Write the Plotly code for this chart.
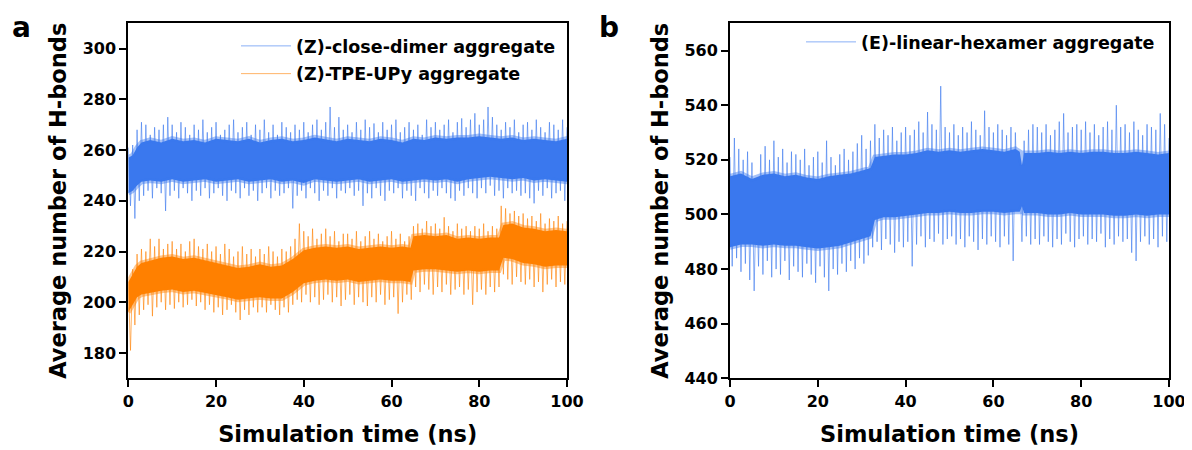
import plotly.graph_objects as go

# ---------------- data ----------------
t_peak = list(range(0, 101))                      # ns, spike tops
t_trough = [i + 0.5 for i in range(0, 100)]       # ns, spike bottoms

# panel a, (Z)-close-dimer aggregate
a_blue_hi = [261, 262, 268, 271, 270, 266, 269, 268, 270, 273,
             270, 267, 271, 269, 266, 270, 268, 272, 267, 269,
             271, 266, 268, 270, 272, 267, 269, 271, 266, 270,
             268, 272, 267, 270, 266, 271, 269, 267, 270, 268,
             271, 267, 270, 272, 268, 271, 277, 269, 273, 268,
             270, 267, 271, 268, 272, 269, 270.5, 267, 271, 268,
             270, 272, 267, 269, 271, 268, 270, 266, 272, 269,
             271, 268, 270, 272, 267, 271, 272.5, 269, 272, 274.5,
             270, 272, 277, 273, 270, 268, 271, 269, 272, 267,
             270, 271, 268, 272, 269, 267, 271, 270, 268, 272,
             269]
a_blue_lo = [238, 233, 240, 242, 244, 241, 245, 243, 236, 242,
             244, 241, 245, 243, 240, 244, 242, 245, 241, 243,
             245, 242, 240, 244, 243, 241, 245, 242, 244, 240,
             243, 245, 241, 244, 242, 243, 245, 237, 242, 244,
             241, 245, 243, 240, 244, 242, 245, 241, 244, 243,
             245, 242, 244, 238, 243, 241, 245, 242, 240, 244,
             243, 245, 241, 244, 242, 240, 245, 243, 241, 244,
             242, 245, 243, 241, 240, 244, 242, 245, 243, 241,
             245, 243, 246, 242, 244, 241, 245, 243, 244, 242,
             243, 241, 239, 244, 242, 245, 241, 243, 244, 240]
t_core_a_blue = [0, 1, 2, 3, 5, 7.5, 10, 12.5, 15, 17.5, 20, 22.5, 25, 27.5, 30, 32.5, 35,
                 37.5, 40, 42.5, 45, 47.5, 50, 52.5, 55, 57.5, 60, 62.5, 65, 67.5, 70, 72.5,
                 75, 77.5, 80, 82.5, 85, 87.5, 90, 92.5, 95, 97.5, 100]
a_blue_core_hi = [257, 258, 261, 263, 264, 263, 264.5, 263.5, 264, 263, 264.5, 264, 263.5,
                  264.5, 263, 264, 264.5, 263.5, 264, 265, 264, 263.5, 264.5, 264, 263.5,
                  264.5, 264, 263, 264.5, 264, 265, 264.5, 265, 265, 265.5, 265, 264.5, 265,
                  264, 264.5, 264, 263.5, 264.5]
a_blue_core_lo = [243, 244, 246, 247.5, 248, 247.5, 248.5, 247.5, 248, 248.5, 247.5, 248,
                  248.5, 247.5, 248, 248.5, 247.5, 248, 247, 248.5, 248, 247.5, 248, 248.5,
                  247.5, 248, 248.5, 247.5, 248, 248.5, 248, 248.5, 247.5, 248.5, 249, 249.5,
                  249, 248.5, 249, 248, 248.5, 248, 247.5]

# panel a, (Z)-TPE-UPy aggregate
a_orange_hi = [208, 213, 219, 221, 220, 225, 222, 225, 221, 223,
               224, 221, 223, 220, 224, 225, 222, 221, 223, 220,
               222, 219, 223, 221, 218, 220, 222, 219, 221, 218,
               221, 219, 222, 220, 218, 221, 220, 222, 225, 231,
               228, 226, 229, 225, 227, 229, 226, 228, 224, 227,
               227, 225, 228, 224, 226, 228, 225, 227, 224, 226,
               228, 225, 227, 224, 226, 230, 231, 229, 232, 230,
               231, 229, 233.5, 230, 228, 231, 229, 230, 228, 230,
               229, 231, 228, 230, 229, 238, 237, 235, 236, 234,
               235, 233, 234, 232, 235, 231, 233, 232, 234, 231,
               232]
a_orange_lo = [181, 191, 195, 197, 199, 194.5, 198, 200, 197, 199,
               197.5, 200, 198, 199, 201, 198.5, 200, 197, 199, 196,
               198, 195, 197, 199, 196, 193, 197, 195, 198, 196,
               198, 196, 199, 197, 195, 198, 196, 199, 201, 200,
               203, 200, 202, 199, 201, 203, 200, 202, 198.5, 201,
               203, 199, 202, 200, 198.5, 202, 200, 203, 199, 201,
               202, 195.5, 200, 203, 201, 206, 204, 207, 205, 203,
               206, 204, 207, 203, 205, 206, 203, 205, 199, 204,
               205, 203, 206, 204, 206, 211, 209, 207, 210, 208,
               207, 209, 206, 208, 204, 207, 209, 206, 208, 207]
t_core_a_orange = [0, 1, 2, 3, 5, 7.5, 10, 12.5, 15, 17.5, 20, 22.5, 25, 27.5, 30, 32.5, 35,
                   37.5, 40, 42.5, 45, 47.5, 50, 52.5, 55, 57.5, 60, 62.5, 64.3, 65, 67.5, 70,
                   72.5, 75, 77.5, 80, 82.5, 84.5, 85.5, 87.5, 90, 92.5, 95, 97.5, 100]
a_orange_core_hi = [208, 211, 214, 215.5, 216.5, 217.5, 218, 217, 217.5, 216.5, 215.5, 214.5,
                    213.5, 214, 215, 214, 214.5, 217, 220.5, 221.5, 222, 221.5, 222, 221,
                    221.5, 222, 221.5, 222, 221.5, 226, 226.5, 226, 226.5, 225, 225.5, 225,
                    225.5, 225.5, 230.5, 231, 229.5, 229, 228, 228.5, 228]
a_orange_core_lo = [196, 199, 202, 203, 203.5, 204.5, 205, 204, 204.5, 203.5, 203, 202, 201,
                    201.5, 202, 201.5, 201.5, 204, 207.5, 208.5, 209, 208.5, 209, 208, 208.5,
                    209, 208.5, 208.5, 208, 212.5, 213, 213, 212.5, 212, 212.5, 212, 212.5,
                    212.5, 217.5, 217, 215.5, 215, 214, 214.5, 214.5]

# panel b, (E)-linear-hexamer aggregate
b_blue_hi = [521, 528, 524, 520, 523, 519, 510, 522, 525, 520,
             527, 521, 524, 519, 523, 522, 520, 524, 518, 521,
             523, 519, 527, 521, 518, 522, 524, 520, 523, 526,
             529, 524, 527, 533, 528, 531, 529, 532, 527, 530,
             532, 529, 531, 534, 530, 537.5, 533, 531, 547, 532,
             530, 533, 529, 532, 530, 534, 531, 529, 538, 532,
             530, 533, 531, 529, 532, 530, 518, 527, 531, 533,
             532, 530, 533, 529, 531, 534, 537, 530, 532, 533,
             531, 534, 530, 533, 529, 532, 534, 531, 540, 532,
             533, 530, 534, 531, 529, 533, 532, 531, 537, 533,
             528]
b_blue_lo = [481, 484, 479, 482, 476, 472, 481, 478, 483, 477,
             480, 478, 483, 476, 481, 479, 477, 482, 478, 475,
             481, 477, 472, 480, 478, 482, 479, 483, 480, 484,
             482, 485, 488, 490, 487, 491, 489, 486, 490, 488,
             490, 481, 489, 492, 488, 491, 490, 493, 489, 491,
             492, 489, 491, 488, 492, 490, 487, 491, 489, 492,
             490, 488, 492, 489, 483, 503, 490, 492, 489, 491,
             489, 492, 490, 488, 491, 489, 493, 490, 488, 491,
             492, 489, 491, 490, 493, 488, 491, 489, 492, 490,
             491, 486, 483, 490, 492, 489, 491, 488, 492, 490]
t_core_b = [0, 2.5, 5, 7.5, 10, 12.5, 15, 17.5, 20, 22.5, 25, 27.5, 30, 32, 33, 35, 37.5, 40,
            42.5, 45, 47.5, 50, 52.5, 55, 57.5, 60, 62.5, 65, 66, 66.5, 67, 70, 72.5, 75,
            77.5, 80, 82.5, 85, 87.5, 90, 92.5, 95, 97.5, 100]
b_blue_core_hi = [514, 515, 513, 514.5, 515, 514, 514.5, 513.5, 513, 514, 514.5, 515, 516,
                  517, 521, 521.5, 522, 522, 522.5, 523.5, 523, 523.5, 523, 523.5, 524,
                  523.5, 523, 524, 523, 518, 522.5, 522.5, 523, 522.5, 523, 522.5, 523, 523,
                  522.5, 522.5, 523, 522.5, 522, 522.5]
b_blue_core_lo = [488, 489, 489, 488.5, 489, 488.5, 488.5, 488, 487.5, 488, 488.5, 489.5,
                  491, 492, 498, 499, 499, 499.5, 500, 500.5, 500.5, 501, 500.5, 500.5, 501,
                  501, 500.5, 501, 501, 503, 500.5, 500.5, 500, 500, 500.5, 500, 500, 500,
                  499.5, 499.5, 500, 499.5, 500, 500]

x_ticks = [0, 20, 40, 60, 80, 100]
a_y_ticks = [180, 200, 220, 240, 260, 280, 300]
b_y_ticks = [440, 460, 480, 500, 520, 540, 560]

names = ["(Z)-close-dimer aggregate", "(Z)-TPE-UPy aggregate", "(E)-linear-hexamer aggregate"]

# ---------------- styling ----------------
BLUE = "#3A78EE"
BLUE_LIGHT = "rgba(58,120,238,0.6)"
BLUE_FRINGE = "rgba(58,120,238,0.45)"
ORANGE = "#FF8000"
ORANGE_LIGHT = "rgba(255,128,0,0.6)"
ORANGE_FRINGE = "rgba(255,128,0,0.45)"
FONT = "DejaVu Sans"

# the page body keeps an 8 px margin: the figure starts 8 px in and runs to the window edge
PAGE_OFF = 8
W, H = 1192 - PAGE_OFF, 450 - PAGE_OFF


def fx(px):
    return (px - PAGE_OFF) / W


def fy(py):
    return 1 - (py - PAGE_OFF) / H


def interleave(th, hi, tl, lo):
    xs, ys = [], []
    for i in range(len(th)):
        xs.append(th[i]); ys.append(hi[i])
        if i < len(tl):
            xs.append(tl[i]); ys.append(lo[i])
    return xs, ys


fig = go.Figure()


def add_series(xa, ya, hi, lo, tcore, chi, clo, solid, light, fringe, name, legend, group):
    xs, ys = interleave(t_peak, hi, t_trough, lo)
    fig.add_trace(go.Scatter(x=xs, y=ys, mode="lines", name=name,
                             line=dict(color=light, width=1),
                             xaxis=xa, yaxis=ya, legend=legend, legendgroup=group,
                             hoverinfo="skip"))
    fig.add_trace(go.Scatter(x=list(tcore) + list(tcore[::-1]),
                             y=list(chi) + list(clo[::-1]),
                             mode="lines", fill="toself", fillcolor=solid,
                             line=dict(color=fringe, width=5),
                             xaxis=xa, yaxis=ya, showlegend=False, legendgroup=group,
                             hoverinfo="skip"))


add_series("x", "y", a_blue_hi, a_blue_lo, t_core_a_blue, a_blue_core_hi, a_blue_core_lo,
           BLUE, BLUE_LIGHT, BLUE_FRINGE, names[0], "legend", "g1")
add_series("x", "y", a_orange_hi, a_orange_lo, t_core_a_orange, a_orange_core_hi,
           a_orange_core_lo, ORANGE, ORANGE_LIGHT, ORANGE_FRINGE, names[1], "legend", "g2")
add_series("x2", "y2", b_blue_hi, b_blue_lo, t_core_b, b_blue_core_hi, b_blue_core_lo,
           BLUE, BLUE_LIGHT, BLUE_FRINGE, names[2], "legend2", "g3")

tickfont = dict(family=FONT, size=16, color="black", weight="bold")
titlefont = dict(family=FONT, size=22.5, color="black", weight="bold")

axis_common = dict(showline=True, linewidth=2, linecolor="black", mirror=True,
                   ticks="outside", ticklen=7, tickwidth=2, tickcolor="black",
                   showgrid=False, zeroline=False, tickfont=tickfont, automargin=False,
                   ticklabeloverflow="allow")

y_dom = [fy(378.3), fy(23.3)]

fig.update_layout(
    width=W, height=H, autosize=False,
    margin=dict(l=0, r=0, t=0, b=0, autoexpand=False),
    paper_bgcolor="white", plot_bgcolor="white",
    font=dict(family=FONT, color="black"),
    xaxis=dict(domain=[fx(128.3), fx(567)], range=[0, 100], tickvals=x_ticks,
               title=dict(text="Simulation time (ns)", font=titlefont, standoff=17),
               anchor="y", **axis_common),
    yaxis=dict(domain=y_dom, range=[170, 310], tickvals=a_y_ticks,
               title=dict(text="Average number of H-bonds", font=titlefont, standoff=10),
               anchor="x", **axis_common),
    xaxis2=dict(domain=[fx(730), fx(1169)], range=[0, 100], tickvals=x_ticks,
                title=dict(text="Simulation time (ns)", font=titlefont, standoff=17),
                anchor="y2", **axis_common),
    yaxis2=dict(domain=y_dom, range=[440, 570], tickvals=b_y_ticks,
                title=dict(text="Average number of H-bonds", font=titlefont, standoff=10),
                anchor="x2", **axis_common),
    legend=dict(x=fx(236), y=fy(28), xanchor="left", yanchor="top",
                bgcolor="rgba(0,0,0,0)", itemwidth=50, tracegroupgap=2,
                font=dict(family=FONT, size=17.5, color="black", weight="bold")),
    legend2=dict(x=fx(801), y=fy(24), xanchor="left", yanchor="top",
                 bgcolor="rgba(0,0,0,0)", itemwidth=50,
                 font=dict(family=FONT, size=17.5, color="black", weight="bold")),
    showlegend=True,
)

fig.add_annotation(text="a", x=fx(21), y=fy(28), xref="paper", yref="paper",
                   showarrow=False, xanchor="center", yanchor="middle",
                   font=dict(family=FONT, size=28, color="black", weight="bold"))
fig.add_annotation(text="b", x=fx(609), y=fy(28), xref="paper", yref="paper",
                   showarrow=False, xanchor="center", yanchor="middle",
                   font=dict(family=FONT, size=28, color="black", weight="bold"))

fig.write_html("out.html")
